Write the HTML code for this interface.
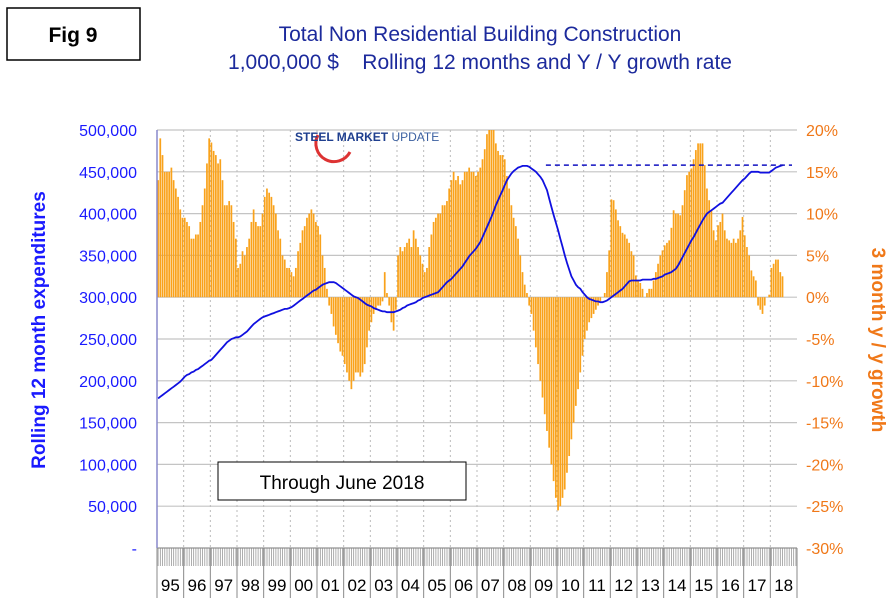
<!DOCTYPE html>
<html><head><meta charset="utf-8"><style>
body{margin:0;background:#fff;width:893px;height:608px;overflow:hidden;font-family:"Liberation Sans",sans-serif}
</style></head><body>
<svg id="c" width="893" height="608" xmlns="http://www.w3.org/2000/svg">
<rect x="7" y="8" width="133" height="52" fill="#fff" stroke="#000" stroke-width="1.5"/>
<text x="73" y="42" text-anchor="middle" font-size="21" font-weight="bold">Fig 9</text>
<text x="480" y="41" text-anchor="middle" font-size="21" fill="#1c2a9c">Total Non Residential Building Construction</text>
<text x="480" y="69" text-anchor="middle" font-size="21" fill="#1c2a9c" xml:space="preserve">1,000,000 $    Rolling 12 months and Y / Y growth rate</text>
<g id="grid"></g><g id="bars"></g><g id="lines"></g><g id="axes"></g>
<g>
<path d="M318,135 A16,16 0 1 0 350,152" fill="none" stroke="#d33" stroke-width="3"/>
<text x="295" y="141" font-size="12" font-weight="bold" fill="#1f3f8f">STEEL <tspan font-weight="bold">MARKET</tspan> <tspan font-weight="normal" fill="#3a5fa0">UPDATE</tspan></text>
</g>
<rect x="218" y="462" width="248" height="38" fill="#fff" stroke="#000"/>
<text x="342" y="489" text-anchor="middle" font-size="19">Through June 2018</text>
<text transform="translate(45,330) rotate(-90)" text-anchor="middle" font-size="19" font-weight="bold" fill="#1a1aff">Rolling 12 month expenditures</text>
<text transform="translate(872,340) rotate(90)" text-anchor="middle" font-size="19" font-weight="bold" fill="#f07818">3 month y / y growth</text>
</svg>
<script>
const years=["95","96","97","98","99","00","01","02","03","04","05","06","07","08","09","10","11","12","13","14","15","16","17","18"];
const growth=[
14,19,17,15,15,15,15.5,14,13,12,10.5,9.5,
9.5,9,8.5,7,7,7.5,7.5,9,11,13,16,19,
18.5,17.5,17,16,16.5,14,11,11,11.5,11,9,7,
3.5,4,5.5,5,6,7,9,10.5,9,8.5,8.5,10,
12,13,12.5,12,11,10,8,7,5,4.5,3.5,3.5,
3,2.5,3.5,5.5,6.5,8,8.5,9.5,10,10.5,10,9,
8.5,7.5,5,3.5,1,-1,-2,-3.5,-4.5,-5.5,-6.5,-7,
-8,-9,-10,-11,-10,-9,-9,-9.5,-9,-8,-6,-4,
-3,-2,-1.5,-1,-1,-0.5,3,0.5,-1,-3,-4,-1.5,
5,6,5.5,6,6.5,7,6,8,7,6,5,4,
3,3.5,6,7.5,9,9.5,10,10,11,11,11.5,13,
14,15,14,14.5,13.5,14,15,15,15.5,15,15,14.5,
15,15.5,16.5,17.7,19.5,20,20,20,18.4,17.5,17,17,
16.5,14.5,13,11,9.5,8.5,7,5,3,1.5,0.5,-1,
-2,-4,-6,-8,-10,-12,-14,-16,-18,-20,-22,-24,
-25.5,-25,-24,-23,-21,-19,-17,-15,-13,-11,-9,-7,
-5,-4,-3,-2.5,-2,-1.5,-1,-0.5,0,0.5,3,5.6,
11.7,11.6,10.5,9.2,8.5,7.7,7.5,7,6.5,5.5,5,2.6,
2,1.7,1,0,0.5,1,1,2,3,4,5,5.6,
6.2,6.5,6.8,8.3,10.4,10,10,9.8,11,12.8,14.6,15,
15.4,16.5,17.6,18.4,18.4,18.4,15.8,13,11.6,10.4,8,6.8,
8.6,9,10,8,7,6.8,6.5,7,6.5,7,8,9.6,
7.4,6,5,3.2,2.5,2,-1,-1.5,-2,-1,0,0.3,
3.5,4,4.5,4.5,3,2.5];
const rolling=[
179,181,183,185,187,189,191,193,195,197,199,202,
205,207,208,210,211,213,214,216,218,220,222,224,
225,228,231,234,237,240,243,246,248,250,251,252,
252,253,255,257,259,262,265,268,270,272,274,276,
277,278,279,280,281,282,283,284,285,286,286,287,
288,290,292,294,296,298,300,302,304,306,308,309,
311,313,315,316,317,318,318,318,317,315,313,311,
309,307,305,303,301,300,299,297,295,293,291,290,
289,287,286,285,284,283,283,282,282,282,282,283,
284,285,287,288,290,291,292,293,294,296,297,299,
300,301,302,303,304,305,306,309,312,315,318,320,
322,325,328,331,334,337,341,345,349,352,355,358,
362,366,372,378,384,390,396,403,410,416,422,428,
434,440,444,448,451,453,455,456,457,457,457,456,
454,452,450,447,444,440,434,428,418,408,398,389,
380,370,360,350,341,333,325,320,315,312,310,306,
303,300,298,297,296,295,295,294,294,295,296,298,
300,302,304,306,308,310,313,316,319,320,320,320,
320,320,321,321,321,321,321,322,322,323,324,325,
327,328,329,330,332,334,338,343,348,353,358,363,
368,372,377,382,387,392,396,400,402,404,406,408,
410,412,413,416,419,422,425,428,431,434,437,440,
442,445,448,450,450,450,450,449,449,449,449,449,
451,453,455,456,457,458];
const dashedLevel=[458];
const dashedStartIndex=[175];
const leftTicks=[0,50,100,150,200,250,300,350,400,450,500];
const rightTicks=[-30,-25,-20,-15,-10,-5,0,5,10,15,20];

const NS="http://www.w3.org/2000/svg";
const X0=157,X1=797,Y0=548,Y1=130,N=years.length*12;
const bw=(X1-X0)/N;
const xm=i=>X0+i*bw;
const yL=v=>Y0-(v/500)*(Y0-Y1);
const yR=p=>Y0-((p+30)/50)*(Y0-Y1);
function mk(t,a,p){const e=document.createElementNS(NS,t);for(const k in a)e.setAttribute(k,a[k]);document.getElementById(p).appendChild(e);return e;}

leftTicks.forEach((v,i)=>{
 const g=mk("line",{x1:X0,x2:X1,y1:yL(v),y2:yL(v),stroke:"#c4c4c4","stroke-width":1.2},"grid");
 
 
 const t=mk("text",{x:137,y:yL(v)+6,"text-anchor":"end","font-size":16,fill:"#1a1aff"},"axes");
 t.textContent=v===0?"-":(v*1000).toLocaleString("en-US");
 
 
});
rightTicks.forEach(p=>{
 const t=mk("text",{x:806,y:yR(p)+6,"font-size":16,fill:"#f07818"},"axes");
 t.textContent=p+"%";
 
 
});
years.forEach((y,i)=>{
 const x=xm(i*12);
 if(i>0){const d=mk("line",{x1:x,x2:x,y1:Y1,y2:Y0,stroke:"#bbb","stroke-dasharray":"2,3"},"grid");
 
 }
 const s=mk("line",{x1:x,x2:x,y1:Y0,y2:598,stroke:"#888"},"axes");
 
 
 const t=mk("text",{x:x+bw*6,y:591,"text-anchor":"middle","font-size":17},"axes");
 t.textContent=y;
 
 
});
mk("line",{x1:X1,x2:X1,y1:Y0,y2:598,stroke:"#888"},"axes");
for(let i=0;i<N;i++){const m=mk("line",{x1:xm(i)+bw/2,x2:xm(i)+bw/2,y1:Y0,y2:566,stroke:"#999","stroke-width":0.8},"axes");
 
 }
const ax=mk("line",{x1:X0,x2:X1,y1:Y0,y2:Y0,stroke:"#888"},"axes");


const la=mk("line",{x1:X0,x2:X0,y1:Y1,y2:Y0,stroke:"#8888cc","stroke-width":1.5},"axes");



growth.forEach((p,i)=>{
 const y0=yR(0),y=yR(p);
 const r=mk("rect",{x:xm(i)+0.2,y:Math.min(y,y0),width:bw-0.5,height:Math.abs(y-y0),fill:"#f9a21b"},"bars");
 
 
});
const pts=rolling.map((v,i)=>(xm(i)+bw/2).toFixed(1)+","+yL(v).toFixed(1)).join(" ");
const pl=mk("polyline",{points:pts,fill:"none",stroke:"#1010e0","stroke-width":1.8},"lines");


const dl=mk("line",{x1:xm(dashedStartIndex[0]),x2:X1-5,y1:yL(dashedLevel[0]),y2:yL(dashedLevel[0]),stroke:"#1010c0","stroke-width":1.5,"stroke-dasharray":"5,4"},"lines");


</script>
</body></html>
